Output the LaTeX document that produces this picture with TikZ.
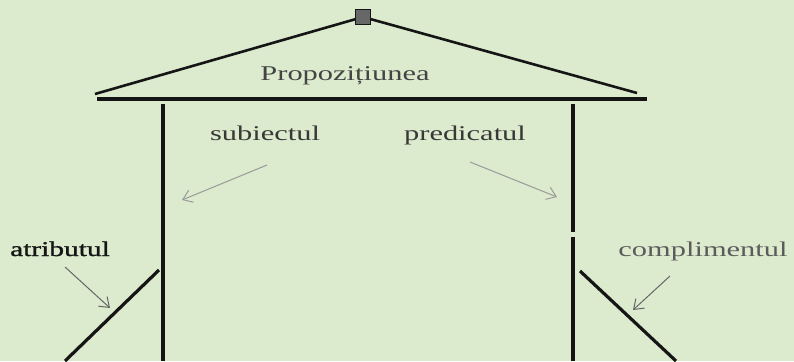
\documentclass[tikz,border=0pt]{standalone}
\usepackage{fontspec}
\setmainfont{Liberation Serif}[FakeStretch=1.45]
\newfontfamily\heavyserif{Liberation Serif}[FakeStretch=1.4,FakeBold=1.2]
\usepackage{tikz}
\usetikzlibrary{arrows.meta}
\definecolor{PaperGreen}{HTML}{DCEBCD}
\definecolor{Ink}{HTML}{151515}
\definecolor{PencilGray}{HTML}{666666}
\definecolor{SoftGray}{HTML}{9A9A9A}

\begin{document}
\begin{tikzpicture}[x=1pt,y=-1pt,
  wall/.style={draw=Ink,line width=3.2pt},
  beam/.style={draw=Ink,line width=2.6pt},
  lbl/.style={anchor=base,inner sep=0pt,text=Ink!85,font=\fontsize{21}{25}\selectfont},
  arr/.style={-{Straight Barb[length=9pt,width=13pt]},draw=PencilGray,line width=1pt},
  farr/.style={arr,draw=SoftGray}
]
\fill[PaperGreen] (0,0) rectangle (794,361);
\useasboundingbox (0,0) rectangle (794,361);

% roof
\node[draw=Ink,fill=Ink!65,minimum size=15pt,inner sep=0pt] (apex) at (363,17) {};
\coordinate (eaveL) at (95,94);
\coordinate (eaveR) at (637,93);
\draw[beam] (eaveL) -- (apex);
\draw[beam] (apex) -- (eaveR);
\coordinate (floorL) at (97,99);
\coordinate (floorR) at (647,99);
\draw[wall] (floorL) -- (floorR);

% walls
\coordinate (wallLt) at (163,104);
\coordinate (wallLb) at (163,361);
\coordinate (wallRt) at (573,104);
\coordinate (wallRm) at (573,232);
\coordinate (wallRn) at (573,237);
\coordinate (wallRb) at (573,361);
\draw[wall] (wallLt) -- (wallLb);
\draw[wall] (wallRt) -- (wallRm);
\draw[wall] (wallRn) -- (wallRb);

% side beams
\coordinate (slantLt) at (159,270);
\coordinate (slantLb) at (65,361);
\coordinate (slantRt) at (580,271);
\coordinate (slantRb) at (676,361);
\draw[wall] (slantLt) -- (slantLb);
\draw[wall] (slantRt) -- (slantRb);

% labels
\node[lbl,text=Ink!80] (prop) at (345,81) {Propozițiunea};
\node[lbl] (subj) at (265,140) {subiectul};
\node[lbl] (pred) at (465,140) {predicatul};
\node[lbl,text=Ink,font=\fontsize{21}{25}\heavyserif] (atr) at (60,256) {atributul};
\node[lbl,text=Ink!70] (compl) at (703,256) {complimentul};

% pointers
\coordinate (subjA) at (267,165);
\coordinate (subjB) at (182,200);
\coordinate (predA) at (470,162);
\coordinate (predB) at (557,197);
\coordinate (atrA) at (65,267);
\coordinate (atrB) at (110,308);
\coordinate (complA) at (670,276);
\coordinate (complB) at (633,310);
\draw[farr] (subjA) -- (subjB);
\draw[farr] (predA) -- (predB);
\draw[arr] (atrA) -- (atrB);
\draw[arr] (complA) -- (complB);
\end{tikzpicture}
\end{document}
